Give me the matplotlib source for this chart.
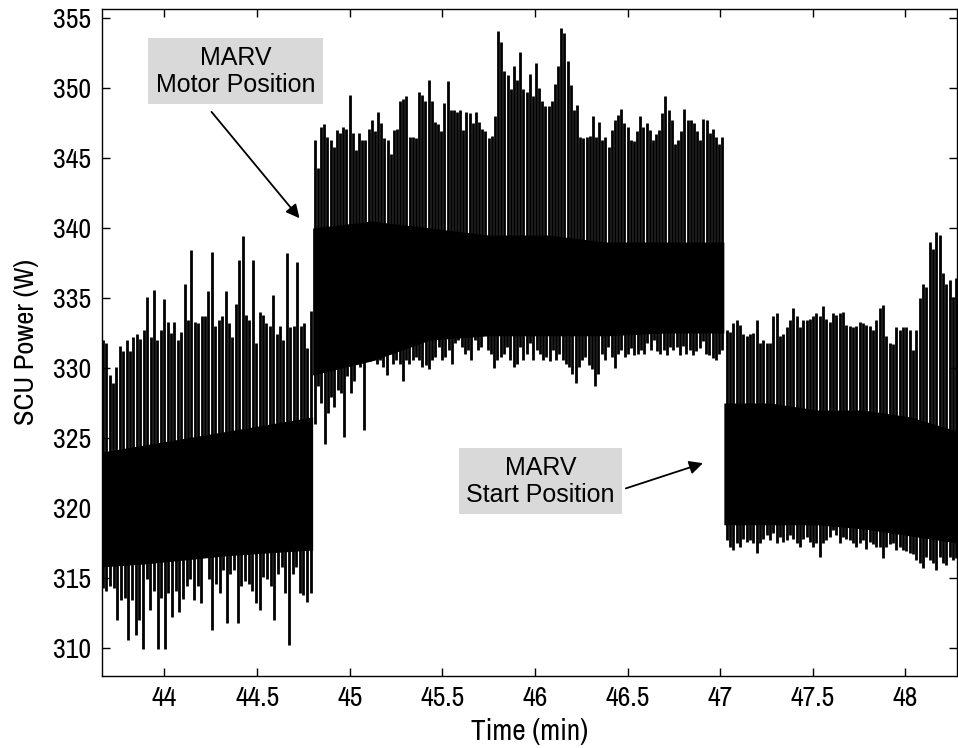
# scu_power.py
# SCU power trace around the MARV motor / start position moves

import numpy as np
import matplotlib
matplotlib.use("Agg")
import matplotlib.pyplot as plt
from matplotlib import font_manager

# time span (min) covered by each operating block
SEG_SPANS = [(43.667, 44.790), (44.812, 47.012), (47.035, 48.275)]
# span filled by the dense core of each block
CORE_SPANS = [(43.663, 44.800), (44.800, 47.020), (47.020, 48.279)]

# block 1: start position
seg1_high = [332.0, 331.8, 329.5, 328.9, 330.1, 331.6, 331.2, 332.0, 331.2, 332.2,
             332.4, 332.1, 332.7, 335.1, 332.2, 335.6, 332.0, 332.7, 334.9, 333.3,
             332.5, 333.3, 332.0, 332.6, 336.0, 333.4, 338.4, 333.3, 333.2, 333.7,
             333.7, 335.5, 338.3, 333.0, 333.4, 333.7, 335.5, 333.2, 332.2, 334.6,
             337.7, 339.4, 333.8, 333.4, 337.7, 331.8, 334.0, 333.8, 333.2, 333.0,
             335.2, 332.4, 333.0, 332.0, 338.2, 332.9, 333.0, 337.6, 333.0, 333.2,
             331.4, 334.1]
seg1_low = [314.3, 314.1, 314.4, 314.3, 312.0, 313.4, 313.6, 310.6, 313.4, 310.9,
            312.0, 309.9, 314.9, 312.7, 314.1, 309.9, 313.6, 309.9, 313.9, 312.2,
            314.1, 312.6, 313.5, 314.4, 314.9, 313.4, 314.4, 313.2,
            316.5, 314.9, 311.3, 314.6, 313.9, 315.6, 311.8, 315.3, 315.6, 311.8,
            314.4, 314.8, 314.6, 314.1, 313.2, 312.7, 315.1, 314.9, 314.4, 312.0,
            315.3, 315.8, 313.9, 310.2, 315.3, 315.8, 313.9, 313.8, 313.3, 313.9]
seg1_core_top = [324.0, 324.5, 325.0, 325.5, 326.0, 326.5]
seg1_core_bot = [315.8, 316.0, 316.3, 316.6, 316.8, 317.0]

# block 2: motor position
seg2_high = [346.3, 344.3, 347.2, 347.4, 346.5, 346.3, 345.8, 347.0, 346.8, 347.2,
             347.1, 349.5, 346.8, 345.6, 346.8, 346.3, 346.3, 347.1, 347.7, 346.9,
             348.3, 347.5, 346.4, 346.3, 345.3, 347.0, 347.1, 349.1, 349.2, 349.4,
             346.5, 346.5, 346.4, 349.7, 349.5, 349.1, 350.6, 349.1, 347.6, 347.4,
             346.9, 348.9, 350.5, 348.4, 348.4,
             348.3, 348.4, 347.0, 348.3, 348.2, 347.5, 348.3, 347.6, 347.1, 346.9,
             346.4, 346.6, 348.0, 354.1, 353.3, 351.2, 350.9, 349.9, 351.6, 350.6,
             352.6, 349.9, 349.7, 351.0, 349.4, 351.8, 350.0, 349.1, 348.7, 348.7,
             349.1, 350.3, 351.6, 354.3, 353.9, 351.9, 350.2, 348.4, 348.8, 346.5,
             346.4, 346.5, 346.6,
             348.0, 346.5, 347.6, 346.3, 346.5, 345.8, 347.0, 347.7, 348.1, 348.5,
             347.5, 347.2, 346.3, 346.2, 346.9, 348.0, 347.2, 347.5, 347.0, 346.3,
             346.7, 347.0, 348.2, 349.4, 348.4, 347.7, 346.0, 346.3, 346.9, 348.5,
             347.7, 347.7, 347.5, 346.9, 346.3, 347.8, 347.7, 346.8, 347.1, 346.5,
             346.0, 346.5]
seg2_low = [326.0, 328.7, 327.5, 324.6, 326.8, 327.9, 327.2, 328.4, 328.2, 325.1,
            329.4, 328.2, 329.1, 330.3, 330.1, 325.6, 330.8, 330.5, 330.6, 330.3,
            330.6, 330.1, 329.5, 331.0, 330.3, 330.6, 330.3, 329.1, 330.6, 330.3,
            330.6, 330.8, 330.6, 330.1, 330.2, 329.9, 330.6, 330.8, 331.5, 330.6,
            330.8, 331.3, 330.3,
            331.8, 332.0, 331.5, 331.0, 331.3, 330.6, 332.0, 331.3, 331.5, 332.5,
            331.3, 331.0, 330.0, 330.6, 330.8, 331.0, 331.5, 330.6, 330.1, 330.3,
            331.5, 330.6, 331.0, 331.8, 330.6, 331.3, 331.0, 330.6, 330.8, 330.5,
            331.3, 330.6, 331.0, 330.6, 330.3, 330.1, 329.6, 328.9, 330.1, 330.6,
            330.8,
            330.2, 329.9, 328.7, 329.6, 331.0, 330.6, 331.5, 330.8, 330.0, 331.0,
            331.3, 330.8, 331.0, 331.4, 330.9, 331.0, 331.3, 331.0, 331.8, 331.3,
            332.0, 331.2, 331.0, 331.3, 330.9, 331.5, 331.3, 331.5, 330.9, 331.6,
            331.0, 331.3, 330.9, 331.2, 331.4, 331.9, 331.0, 330.9, 330.7, 330.6,
            331.0, 331.3]
seg2_core_top = [340.0, 340.5, 340.0, 339.5, 339.5, 339.0, 339.0, 339.0]
seg2_core_bot = [329.5, 330.5, 332.0, 332.3, 332.3, 332.3, 332.5, 332.5]

# block 3: back to start position
seg3_high = [332.7, 332.6, 333.2, 333.4, 333.1, 332.4, 332.3, 332.4, 332.5, 333.4,
             331.8, 332.0, 331.8, 331.8, 333.7, 333.9, 332.3, 332.4, 332.9, 333.4,
             334.3, 333.7, 332.9, 333.4, 333.4, 333.5, 333.7, 333.9, 333.7, 334.4,
             333.5, 333.3, 333.9, 333.8, 333.9, 334.0, 333.1, 333.0, 332.9, 333.0,
             333.3, 333.2, 333.1, 333.0, 332.7, 333.4, 334.3, 334.5, 332.3, 331.8,
             331.7, 332.9, 332.7, 332.9, 332.9, 332.7, 331.3, 332.7, 335.0, 336.0,
             335.8, 339.0, 338.5, 339.7, 339.5, 336.8, 336.0, 336.3, 335.1, 336.4]
seg3_low = [317.7, 317.2, 317.0, 317.5, 317.2, 317.8, 317.6, 317.7, 317.5, 316.8,
            317.5, 317.8, 318.1, 317.7, 318.2, 317.5, 317.9, 317.6, 317.7, 318.1,
            317.8, 317.5, 317.2, 317.8, 317.9, 317.6, 317.2, 317.5, 316.5, 317.5,
            317.7, 317.9, 318.4, 318.1, 317.5, 317.9, 317.8, 317.7, 317.5, 317.2,
            317.5, 317.7, 317.1, 317.6, 317.4, 317.2, 317.2, 316.4, 317.2, 317.4,
            317.5, 317.0, 317.2, 317.0, 316.9, 316.8, 316.7, 316.3, 316.1, 315.7,
            316.5, 316.3, 316.1, 315.6, 316.5, 316.1, 315.9, 316.5, 316.3, 316.4]
seg3_core_top = [327.5, 327.5, 327.0, 327.0, 326.5, 325.5]
seg3_core_bot = [318.8, 318.8, 318.8, 318.5, 318.0, 317.5]

SEGMENTS = [
    (seg1_high, seg1_low, seg1_core_top, seg1_core_bot),
    (seg2_high, seg2_low, seg2_core_top, seg2_core_bot),
    (seg3_high, seg3_low, seg3_core_top, seg3_core_bot),
]

XTICKS = [44, 44.5, 45, 45.5, 46, 46.5, 47, 47.5, 48]
YTICKS = [310, 315, 320, 325, 330, 335, 340, 345, 350, 355]

# narrow face for the axis text, plain sans for the callouts
names = {f.name for f in font_manager.fontManager.ttflist}
AXIS_FONT = next((n for n in ("Archivo Narrow", "Pragati Narrow", "Roboto Condensed")
                  if n in names), "Liberation Sans")
NOTE_FONT = "Liberation Sans"


def main():
    fig = plt.figure(figsize=(9.58, 7.48), dpi=100)
    ax = fig.add_axes([0.1065, 0.0963, 0.8925, 0.8923])

    for (t0, t1), (c0, c1), (high, low, ctop, cbot) in zip(SEG_SPANS, CORE_SPANS, SEGMENTS):
        t_hi = np.linspace(t0, t1, len(high))
        t_lo = np.linspace(t0, t1, len(low))
        t_core = np.linspace(c0, c1, len(ctop))
        mid = (np.mean(ctop) + np.mean(cbot)) / 2
        ax.fill_between(t_core, cbot, ctop, color="k", linewidth=0)
        ax.vlines(t_hi, mid, high, colors="k", linewidth=2.0)
        ax.vlines(t_lo, low, mid, colors="k", linewidth=2.0)

    ax.set_xlim(43.663, 48.279)
    ax.set_ylim(308.0, 355.68)
    ax.set_xticks(XTICKS)
    ax.set_xticklabels([f"{v:g}" for v in XTICKS])
    ax.set_yticks(YTICKS)
    ax.tick_params(direction="in", top=True, right=True, length=6, width=1,
                   labelsize=20)
    ax.tick_params(axis="x", pad=7)
    ax.tick_params(axis="y", pad=8)
    for lab in ax.get_xticklabels() + ax.get_yticklabels():
        lab.set_family(AXIS_FONT)
    for sp in ax.spines.values():
        sp.set_linewidth(1.0)

    ax.set_xlabel("Time (min)", family=AXIS_FONT, fontsize=21, labelpad=5)
    ax.set_ylabel("SCU Power (W)", family=AXIS_FONT, fontsize=20.5, labelpad=10)

    box = dict(boxstyle="square,pad=0.3", facecolor="#d9d9d9", edgecolor="none")
    ax.text(44.384, 351.2, "MARV\nMotor Position", ha="center", va="center",
            fontsize=18, family=NOTE_FONT, linespacing=1.15, bbox=box)
    ax.text(46.031, 321.9, "MARV\nStart Position", ha="center", va="center",
            fontsize=18, family=NOTE_FONT, linespacing=1.15, bbox=box)

    arrow = dict(arrowstyle="-|>", color="k", lw=1.3, mutation_scale=20,
                 shrinkA=0, shrinkB=0)
    ax.annotate("", xy=(44.729, 340.7), xytext=(44.254, 348.3), arrowprops=arrow)
    ax.annotate("", xy=(46.907, 323.2), xytext=(46.491, 321.4), arrowprops=arrow)

    fig.savefig("out.png", dpi=100)
    plt.close(fig)


if __name__ == "__main__":
    main()
